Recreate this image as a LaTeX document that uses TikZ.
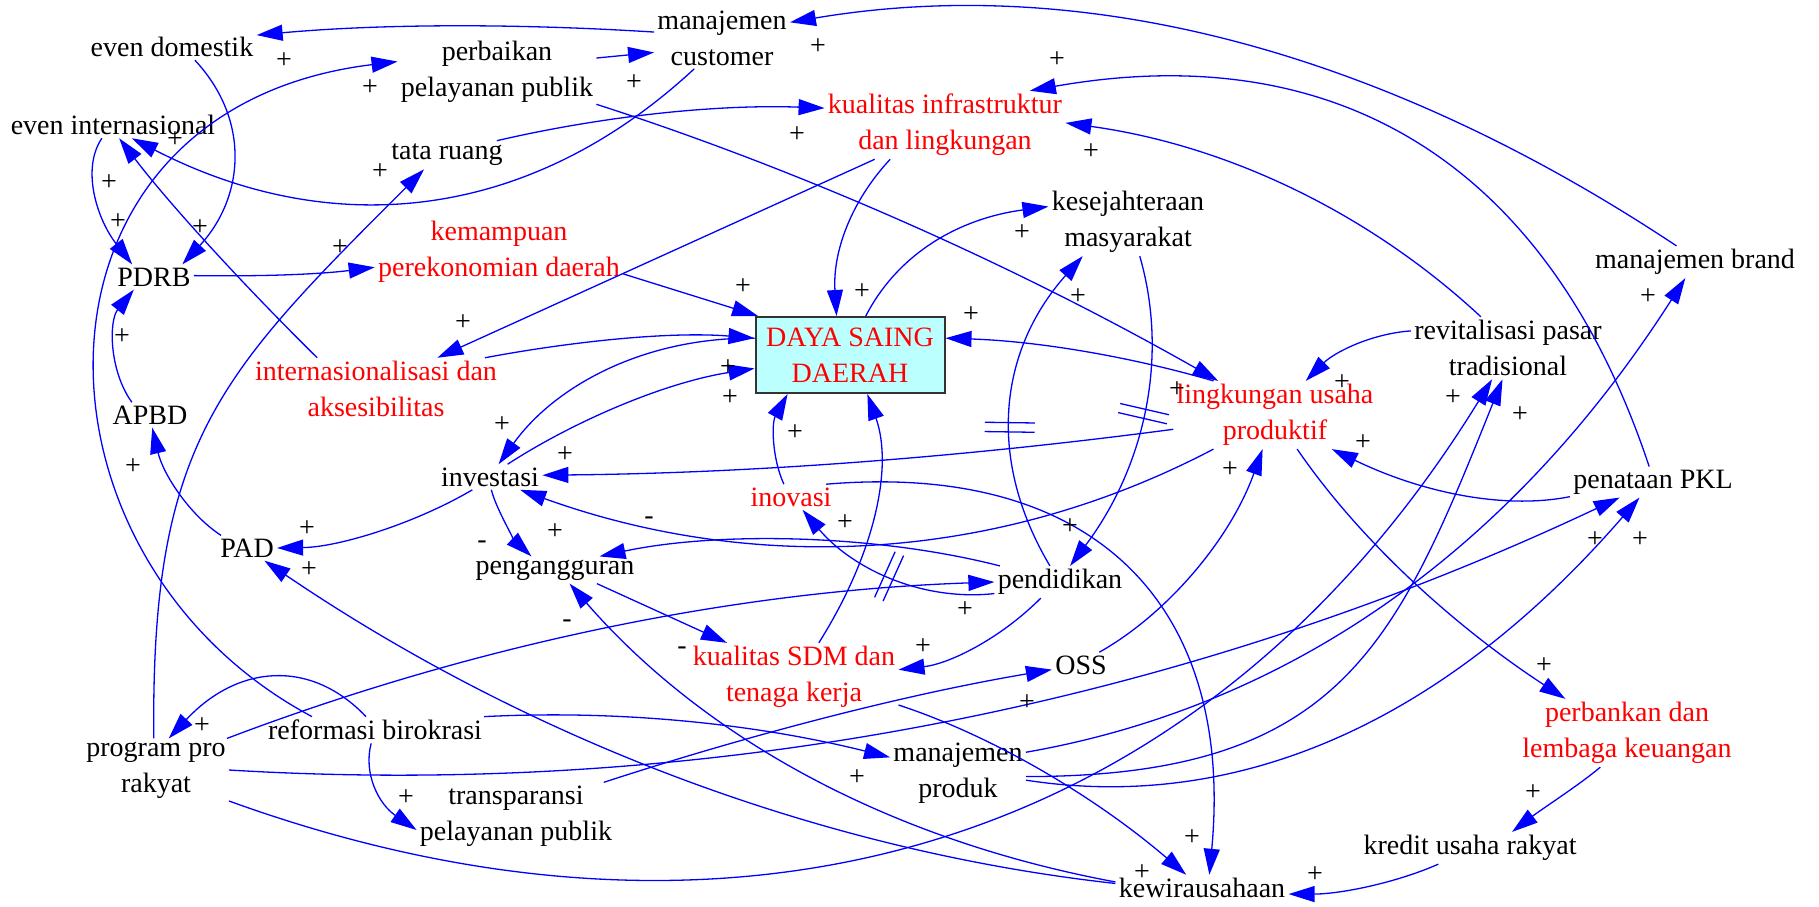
\documentclass[tikz,border=0pt]{standalone}
\usepackage{fontspec}
\setmainfont{Liberation Serif}
\usetikzlibrary{arrows.meta}
\definecolor{linkblue}{RGB}{0,0,255}
\definecolor{keyred}{RGB}{255,0,0}
\definecolor{boxcyan}{RGB}{187,255,255}
\newcommand{\delaybars}{\textcolor{linkblue}{\rule{0.65pt}{25pt}\hspace{4pt}\rule{0.65pt}{25pt}}}

\begin{document}
\begin{tikzpicture}[x=0.5pt,y=-0.5pt,
    var/.style={font=\fontsize{14pt}{18pt}\selectfont,align=center,inner sep=1.5pt},
    key/.style={var,text=keyred},
    box/.style={key,draw=black!80,fill=boxcyan,line width=1pt,minimum width=94.5pt,minimum height=38pt},
    sign/.style={font=\fontsize{14pt}{18pt}\selectfont,inner sep=0pt},
    link/.style={draw=linkblue,line width=0.65pt,-{Triangle[length=13pt,width=8pt]}},
    delaymark/.style={sloped,inner sep=0pt,anchor=center}]
  \useasboundingbox (0,0) rectangle (1819,906);

  \node[var] (evdom) at (172,47) {even domestik};
  \node[var] (evint) at (113,125) {even internasional};
  \node[var] (pdrb) at (154,277) {PDRB};
  \node[var] (apbd) at (150,415) {APBD};
  \node[var] (pad) at (247,548) {PAD};
  \node[var] (perbaikan) at (497,72) {perbaikan\\pelayanan publik};
  \node[var] (mcust) at (722,38) {manajemen\\customer};
  \node[var] (tata) at (447,155) {tata ruang};
  \node[key] (kinfra) at (945,125) {kualitas infrastruktur\\dan lingkungan};
  \node[key] (kemampuan) at (499,252) {kemampuan\\perekonomian daerah};
  \node[key] (intl) at (376,389) {internasionalisasi dan\\aksesibilitas};
  \node[box] (dsd) at (850,355) {DAYA SAING\\DAERAH};
  \node[var] (kesej) at (1128,222) {kesejahteraan\\masyarakat};
  \node[key] (lingk) at (1275,415) {lingkungan usaha\\produktif};
  \node[var] (revit) at (1508,348) {revitalisasi pasar\\tradisional};
  \node[var] (mbrand) at (1695,262) {manajemen brand};
  \node[var] (invest) at (490,477) {investasi};
  \node[key] (inov) at (791,497) {inovasi};
  \node[var] (pkl) at (1653,482) {penataan PKL};
  \node[var] (pengang) at (555,570) {pengangguran};
  \node[var] (pendid) at (1060,582) {pendidikan};
  \node[key] (ksdm) at (794,677) {kualitas SDM dan\\tenaga kerja};
  \node[var] (oss) at (1081,665) {OSS};
  \node[key] (perbankan) at (1627,733) {perbankan dan\\lembaga keuangan};
  \node[var] (reform) at (375,730) {reformasi birokrasi};
  \node[var] (program) at (156,770) {program pro\\rakyat};
  \node[var] (mprod) at (958,773) {manajemen\\produk};
  \node[var] (transp) at (516,816) {transparansi\\pelayanan publik};
  \node[var] (kewira) at (1202,888) {kewirausahaan};
  \node[var] (kredit) at (1470,848) {kredit usaha rakyat};

  \draw[link] (mcust.175) .. controls +(-143,-9) and +(121,-11) .. (evdom.8);
  \draw[link] (mbrand.139) .. controls +(-292,-194) and +(296,-50) .. (mcust.13);
  \draw[link] (pkl.104) .. controls +(-101,-304) and +(306,-54) .. (kinfra.22);
  \draw[link] (revit.131) .. controls +(-113,-105) and +(160,22) .. (kinfra.1);
  \draw[link] (mcust.228) .. controls +(-165,153) and +(200,103) .. (evint.325);
  \draw[link] (perbaikan.8) -- (mcust.192);
  \draw[link] (tata.16) .. controls +(103,-24) and +(-110,-4) .. (kinfra.172);
  \draw[link] (perbaikan.342) .. controls +(202,65) and +(-206,-117) .. (lingk.149);
  \draw[link] (kinfra.212) .. controls +(-40,43) and +(-4,-63) .. (dsd.109);
  \draw[link] (kinfra.206) -- (intl.27);
  \draw[link] (kemampuan.350) -- (dsd.157);
  \draw[link] (intl.16) .. controls +(85,-16) and +(-85,-7) .. (dsd.170);
  \draw[link] (dsd.170) .. controls +(-111,-1) and +(56,-78) .. (invest.56);
  \draw[link] (invest.36) .. controls +(68,-44) and +(-89,14) .. (dsd.188);
  \draw[link] (dsd.68) .. controls +(32,-62) and +(-90,12) .. (kesej.169);
  \draw[link] (lingk.151) .. controls +(-82,-24) and +(93,3) .. (dsd.10);
  \draw[link] (revit.170) .. controls +(-41,3) and +(28,-28) .. (lingk.48);
  \draw[link] (kesej.289) .. controls +(30,104) and +(73,-97) .. (pendid.58)
    node[delaymark,pos=.5] (lag1) {\delaybars};
  \draw[link] (pendid.122) .. controls +(-62,-104) and +(-86,97) .. (kesej.217)
    node[delaymark,pos=.44] (lag2) {\delaybars};
  \draw[link] (lingk.188) .. controls +(-212,28) and +(210,-2) .. (invest.2);
  \draw[link] (lingk.209) .. controls +(-221,116) and +(230,83) .. (invest.337);
  \draw[link] (pendid.165) .. controls +(-125,-32) and +(118,-25) .. (pengang.17);
  \draw[link] (pendid.190) .. controls +(-74,8) and +(49,58) .. (inov.312)
    node[delaymark,pos=.5] (lag3) {\delaybars};
  \draw[link] (invest.276) .. controls +(5,20) and +(-15,-14) .. (pengang.150);
  \draw[link] (invest.216) .. controls +(-56,33) and +(63,-1) .. (pad.0);
  \draw[link] (pad.154) .. controls +(-31,-20) and +(11,47) .. (apbd.280);
  \draw[link] (apbd.145) .. controls +(-23,-32) and +(-25,31) .. (pdrb.212);
  \draw[link] (evint.230) .. controls +(-21,31) and +(-35,-45) .. (pdrb.150);
  \draw[link] (evdom.330) .. controls +(56,60) and +(62,-67) .. (pdrb.24);
  \draw[link] (pdrb.2) .. controls +(68,1) and +(-55,7) .. (kemampuan.187);
  \draw[link] (intl.152) .. controls +(-72,-71) and +(52,68) .. (evint.295);
  \draw[link] (reform.168) .. controls +(-300,-160) and +(-388,47) .. (perbaikan.174);
  \draw[link] (program.94) .. controls +(-3,-296) and +(-206,206) .. (tata.212);
  \draw[link] (reform.124) .. controls +(-55,-58) and +(69,-74) .. (program.68);
  \draw[link] (reform.254) .. controls +(-8,30) and +(-38,-26) .. (transp.188);
  \draw[link] (reform.7) .. controls +(138,-7) and +(-132,-33) .. (mprod.167);
  \draw[link] (program.24) .. controls +(245,-93) and +(-263,9) .. (pendid.180);
  \draw[link] (program.0) .. controls +(478,29) and +(-439,207) .. (pkl.205);
  \draw[link] (program.337) .. controls +(505,183) and +(-291,472) .. (revit.243);
  \draw[link] (mprod.17) .. controls +(269,-47) and +(-171,267) .. (mbrand.239);
  \draw[link] (mprod.357) .. controls +(314,0) and +(-107,267) .. (revit.260);
  \draw[link] (mprod.354) .. controls +(219,34) and +(-189,218) .. (pkl.229);
  \draw[link] (pkl.190) .. controls +(-65,13) and +(91,44) .. (lingk.329);
  \draw[link] (lingk.303) .. controls +(63,92) and +(-110,-72) .. (perbankan.151);
  \draw[link] (perbankan.232) .. controls +(-20,17) and +(30,-23) .. (kredit.21);
  \draw[link] (kredit.207) .. controls +(-43,19) and +(51,0) .. (kewira.356);
  \draw[link] (inov.20) .. controls +(271,-23) and +(25,-267) .. (kewira.61);
  \draw[link] (inov.119) .. controls +(-12,-26) and +(-16,29) .. (dsd.212);
  \draw[link] (ksdm.54) .. controls +(56,-89) and +(26,73) .. (dsd.294);
  \draw[link] (pengang.342) -- (ksdm.153);
  \draw[link] (pendid.220) .. controls +(-41,41) and +(51,-6) .. (ksdm.4);
  \draw[link] (ksdm.345) .. controls +(92,30) and +(-92,-79) .. (kewira.140);
  \draw[link] (kewira.176) .. controls +(-226,-42) and +(135,155) .. (pengang.317);
  \draw[link] (kewira.177) .. controls +(-298,-33) and +(261,177) .. (pad.324);
  \draw[link] (transp.21) .. controls +(144,-47) and +(-148,25) .. (oss.189);
  \draw[link] (oss.35) .. controls +(66,-37) and +(-33,92) .. (lingk.250);

  \foreach \x/\y [count=\i] in {284/61, 370/88, 175/140, 109/183, 118/222, 200/228,
      380/172, 340/248, 122/337, 463/323, 818/47, 634/83, 797/135, 743/287, 862/292,
      728/368, 730/398, 502/425, 565/455, 795/433, 1057/60, 1091/152, 1022/233,
      1078/297, 971/315, 1177/390, 1342/383, 1363/443, 1648/297, 1453/398, 1520/415,
      133/467, 307/529, 309/570, 202/726, 406/798, 555/532, 845/523, 857/778,
      1230/470, 1070/527, 965/610, 923/647, 1027/703, 1192/838, 1142/873, 1315/875,
      1595/540, 1640/540, 1544/666, 1533/793}
    \node[sign] (plus\i) at (\x,\y) {+};
  \foreach \x/\y [count=\i] in {482/545, 649/521, 567/624, 682/651}
    \node[sign] (minus\i) at (\x,\y) {-};
\end{tikzpicture}
\end{document}
